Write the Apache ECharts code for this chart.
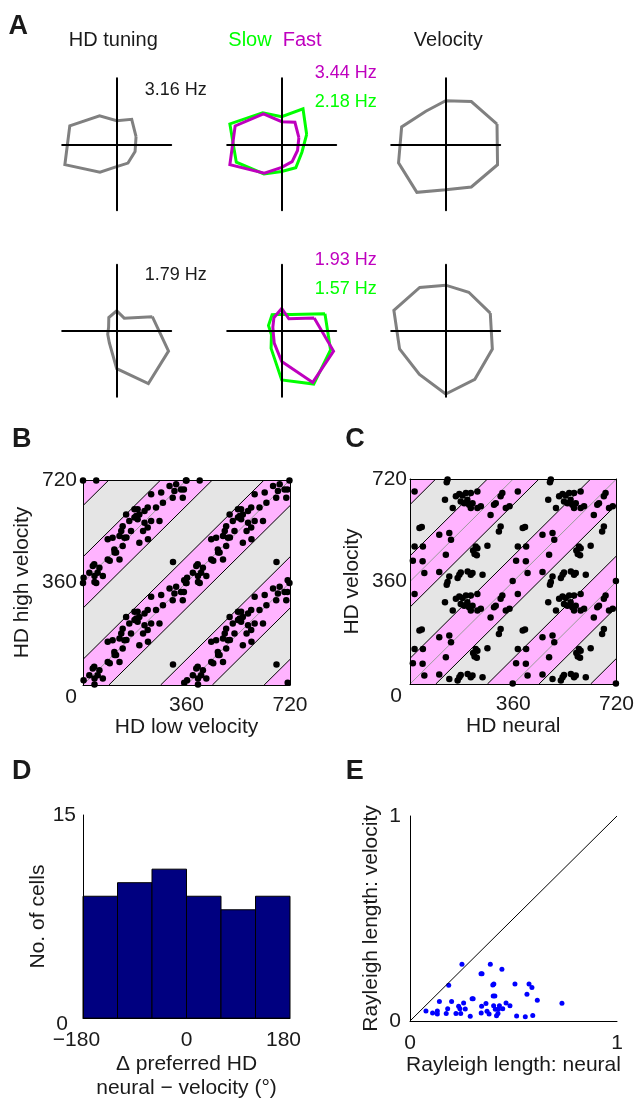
<!DOCTYPE html>
<html><head><meta charset="utf-8">
<script src="https://cdn.jsdelivr.net/npm/echarts@6/dist/echarts.min.js"></script>
<style>html,body{margin:0;padding:0;background:#fff}#c{width:637px;height:1101px}</style>
</head><body><div id="c"></div>
<script>
const FONT = "'Liberation Sans', Arial, Helvetica, sans-serif";
const TXT = '#1a1a1a';

// ---- Panel A: direction bins (deg) and tuning curves ----
const binAngles = [18, 54, 90, 126, 162, 198, 234, 270, 306, 342];
const hdTuning1 = [1.18, 1.48, 1.13, 1.69, 2.86, 3.16, 1.65, 1.07, 1.11, 1.12];
const slow1     = [1.05, 1.45, 0.91, 1.29, 2.18, 1.91, 1.21, 0.90, 0.96, 0.85];
const fast1     = [1.14, 1.42, 1.18, 1.96, 3.09, 3.44, 1.86, 1.20, 1.12, 1.05];
const velocity1 = [0.99, 0.80, 0.66, 0.62, 0.85, 0.91, 0.90, 0.69, 0.80, 1.00];
const hdTuning2 = [1.23, 0.42, 0.54, 0.44, 0.28, 0.31, 0.41, 1.03, 1.77, 1.79];
const slow2     = [1.31, 0.48, 0.39, 0.47, 0.40, 0.31, 0.52, 1.17, 1.57, 1.48];
const fast2     = [1.21, 0.43, 0.65, 0.47, 0.33, 0.31, 0.45, 0.90, 1.87, 1.93];
const velocity2 = [0.86, 0.72, 0.69, 0.81, 1.00, 0.89, 0.82, 0.96, 0.91, 0.90];

// ---- Panels B & C: background bands (offset y - x, deg) ----
const pinkBands = [[-810, -630], [-450, -270], [-90, 90], [270, 450], [630, 810]];
const bandEdges = [-630, -450, -270, -90, 90, 270, 450, 630];
const identityLines = [-360, 0, 360];

// Panel B: preferred HD (low velocity, high velocity), base points in [0,360)
const hdLowVel = [324,341,318,301,272,312,347,237,278,254,225,214,190,179,185,196,190,179,150,161,214,237,266,225,138,167,133,127,144,103,86,196,138,109,115,86,127,39,34,57,22,51,40,69,2,40,313,352,351,46,0,358,93,151,209,226,110];
const hdHighVel = [345,327,321,339,316,298,298,310,280,263,263,251,257,257,234,239,222,228,239,216,210,216,216,193,198,181,181,163,157,157,152,140,128,116,105,81,81,64,58,52,34,34,23,23,17,2,72,8,327,358,358,358,76,158,181,152,105];

// Panel C: preferred HD (neural, velocity), base points in [0,360)
const hdNeural = [16,128,122,160,172,183,195,212,235,177,189,200,206,218,212,235,247,149,299,293,322,316,334,347,281,41,33,102,137,143,316,310,16,45,229,235,270,233,125,10,44,50,102,137,172,177,166,201,218,212,253,358,131,220,225];
const hdVelocity = [316,349,287,299,307,302,311,311,316,281,275,287,270,275,258,258,264,258,275,270,311,299,258,264,234,191,188,164,170,147,193,176,123,123,123,117,126,92,94,73,71,30,33,18,24,32,12,35,30,24,24,2,358,109,97];

// ---- Panel D: histogram ----
const binEdgesD = [-180, -120, -60, 0, 60, 120, 180];
const cellCounts = [9, 10, 11, 9, 8, 9];

// ---- Panel E: Rayleigh vector lengths ----
const rayNeural = [0.251,0.388,0.444,0.343,0.348,0.187,0.400,0.405,0.507,0.575,0.589,0.565,0.402,0.410,0.615,0.734,0.142,0.201,0.259,0.300,0.305,0.367,0.346,0.464,0.483,0.077,0.109,0.132,0.132,0.182,0.175,0.235,0.241,0.222,0.245,0.267,0.291,0.344,0.372,0.382,0.404,0.412,0.427,0.425,0.432,0.448,0.418,0.515,0.557,0.593];
const rayVelocity = [0.277,0.277,0.252,0.231,0.231,0.174,0.176,0.180,0.180,0.180,0.164,0.130,0.122,0.122,0.101,0.086,0.095,0.095,0.088,0.109,0.109,0.085,0.072,0.088,0.075,0.049,0.039,0.049,0.034,0.060,0.037,0.072,0.060,0.037,0.037,0.059,0.023,0.039,0.048,0.034,0.075,0.057,0.057,0.037,0.075,0.060,0.026,0.024,0.021,0.027];
const unityLine = [[0, 0], [1, 1]];

// ---------------- helpers ----------------
function polarPoly(vals) {
  const m = Math.max(...vals);
  const pts = vals.map((v, i) => {
    const a = binAngles[i] * Math.PI / 180;
    return [v / m * Math.cos(a), v / m * Math.sin(a)];
  });
  pts.push(pts[0]);
  return pts;
}
function hz(vals) { return Math.max(...vals).toFixed(2) + ' Hz'; }
function wrap4(xs, ys) {
  const out = [];
  xs.forEach((x, i) => {
    const y = ys[i];
    out.push([x, y], [x + 360, y], [x, y + 360], [x + 360, y + 360]);
  });
  return out;
}
function clipPoly(pts, lo, hi) {
  const planes = [
    [p => p[0] >= lo, (a, b) => { const t = (lo - a[0]) / (b[0] - a[0]); return [lo, a[1] + t * (b[1] - a[1])]; }],
    [p => p[0] <= hi, (a, b) => { const t = (hi - a[0]) / (b[0] - a[0]); return [hi, a[1] + t * (b[1] - a[1])]; }],
    [p => p[1] >= lo, (a, b) => { const t = (lo - a[1]) / (b[1] - a[1]); return [a[0] + t * (b[0] - a[0]), lo]; }],
    [p => p[1] <= hi, (a, b) => { const t = (hi - a[1]) / (b[1] - a[1]); return [a[0] + t * (b[0] - a[0]), hi]; }]
  ];
  let poly = pts;
  for (const [inside, inter] of planes) {
    const res = [];
    for (let i = 0; i < poly.length; i++) {
      const cur = poly[i], prev = poly[(i + poly.length - 1) % poly.length];
      const ci = inside(cur), pi = inside(prev);
      if (ci) { if (!pi) res.push(inter(prev, cur)); res.push(cur); }
      else if (pi) res.push(inter(prev, cur));
    }
    poly = res;
    if (!poly.length) break;
  }
  return poly;
}
function bandRender(params, api) {
  const lo = api.value(0), hi = api.value(1);
  const poly = clipPoly([[-900, -900 + lo], [1700, 1700 + lo], [1700, 1700 + hi], [-900, -900 + hi]], 0, 720);
  if (poly.length < 3) return null;
  return { type: 'polygon', shape: { points: poly.map(p => api.coord(p)) }, style: { fill: '#ffb3ff' } };
}
function lineRender(color) {
  return function (params, api) {
    const k = api.value(0);
    const x1 = Math.max(0, -k), x2 = Math.min(720, 720 - k);
    if (x2 <= x1) return null;
    const p1 = api.coord([x1, x1 + k]), p2 = api.coord([x2, x2 + k]);
    return { type: 'line', shape: { x1: p1[0], y1: p1[1], x2: p2[0], y2: p2[1] }, style: { stroke: color, lineWidth: 1 } };
  };
}
const lbl = (extra) => Object.assign({ fontSize: 21, color: TXT, fontFamily: FONT }, extra || {});

// ---------------- layout ----------------
const aCx = [116.7, 281.7, 445.7], aCy = [144.3, 330.7];
const grids = [], xAxes = [], yAxes = [], series = [];
for (let i = 0; i < 6; i++) {
  const cx = aCx[i % 3], cy = aCy[Math.floor(i / 3)];
  grids.push({ left: cx - 54.5, top: cy - 66, width: 109, height: 132 });
  const ax = { gridIndex: i, type: 'value', min: -1, max: 1, z: 10,
    axisLine: { onZero: true, lineStyle: { color: '#000', width: 2 } },
    axisTick: { show: false }, axisLabel: { show: false }, splitLine: { show: false } };
  xAxes.push(Object.assign({}, ax));
  yAxes.push(Object.assign({}, ax));
}
// B (6), C (7), D (8), E (9)
grids.push({ left: 83, top: 480, width: 207, height: 205, show: true, backgroundColor: '#e5e5e5', borderWidth: 0 });
grids.push({ left: 410, top: 479, width: 208, height: 205, show: true, backgroundColor: '#e5e5e5', borderWidth: 0 });
grids.push({ left: 83, top: 815, width: 207, height: 206 });
grids.push({ left: 410, top: 816, width: 207, height: 205 });

const blackLine = { onZero: false, lineStyle: { color: '#000', width: 1 } };
function boxAxes(g, xName, yName, yGap, yZeroPad, yMargin) {
  xAxes.push({ gridIndex: g, type: 'value', min: 0, max: 720, interval: 360, z: 10,
    axisLine: blackLine, axisTick: { show: false }, splitLine: { show: false },
    axisLabel: lbl({ margin: 10, formatter: v => v === 0 ? '' : String(v) }),
    name: xName, nameLocation: 'middle', nameGap: 32, nameTextStyle: lbl() });
  yAxes.push({ gridIndex: g, type: 'value', min: 0, max: 720, interval: 360, z: 10,
    axisLine: blackLine, axisTick: { show: false }, splitLine: { show: false },
    axisLabel: lbl({ margin: yMargin, formatter: v => v === 0 ? '{z|0}' : String(v),
      rich: { z: lbl({ padding: yZeroPad }) } }),
    name: yName, nameLocation: 'middle', nameRotate: 90, nameGap: yGap, nameTextStyle: lbl() });
}
boxAxes(6, 'HD low velocity', 'HD high velocity', 50, [24, 0, 0, 0], 6);
boxAxes(7, 'HD neural', 'HD velocity', 47, [24, 5, 0, 0], 3);

xAxes.push({ gridIndex: 8, type: 'value', min: -180, max: 180, interval: 180, z: 10,
  axisLine: blackLine, axisTick: { show: false }, splitLine: { show: false },
  axisLabel: lbl({ margin: 12, formatter: v => v === -180 ? '{s|\u2212180}' : (v === 180 ? '{s|180}' : String(v)),
    rich: { s: lbl({ padding: [0, 13, 0, 0] }) } }),
  name: '\u0394 preferred HD\nneural \u2212 velocity (\u00b0)', nameLocation: 'middle', nameGap: 32,
  nameTextStyle: lbl({ lineHeight: 24 }) });
yAxes.push({ gridIndex: 8, type: 'value', min: 0, max: 15, interval: 15, z: 10,
  axisLine: blackLine, axisTick: { show: false }, splitLine: { show: false },
  axisLabel: lbl({ margin: 7, formatter: v => v === 0 ? '{z|0}' : String(v), rich: { z: lbl({ padding: [12, 8, 0, 0] }) } }),
  name: 'No. of cells', nameLocation: 'middle', nameRotate: 90, nameGap: 21, nameTextStyle: lbl() });

xAxes.push({ gridIndex: 9, type: 'value', min: 0, max: 1, interval: 1, z: 10,
  axisLine: blackLine, axisTick: { show: false }, splitLine: { show: false },
  axisLabel: lbl({ margin: 12 }),
  name: 'Rayleigh length: neural', nameLocation: 'middle', nameGap: 29, nameTextStyle: lbl() });
yAxes.push({ gridIndex: 9, type: 'value', min: 0, max: 1, interval: 1, z: 10,
  axisLine: blackLine, axisTick: { show: false }, splitLine: { show: false },
  axisLabel: lbl({ margin: 9 }),
  name: 'Rayleigh length: velocity', nameLocation: 'middle', nameRotate: 90, nameGap: 28, nameTextStyle: lbl() });

// box top/right borders for B and C (axes 10, 11)
[6, 7].forEach(g => {
  xAxes.push({ gridIndex: g, type: 'value', position: 'top', min: 0, max: 720, z: 10,
    axisLine: { onZero: false, lineStyle: { color: '#000', width: 1 } }, axisTick: { show: false },
    axisLabel: { show: false }, splitLine: { show: false } });
  yAxes.push({ gridIndex: g, type: 'value', position: 'right', min: 0, max: 720, z: 10,
    axisLine: { onZero: false, lineStyle: { color: '#000', width: 1 } }, axisTick: { show: false },
    axisLabel: { show: false }, splitLine: { show: false } });
});

// ---- Panel A series ----
const GRAY = '#808080', GREEN = '#00ff00', MAG = '#bf00bf';
function poly(idx, vals, color) {
  series.push({ type: 'line', xAxisIndex: idx, yAxisIndex: idx, data: polarPoly(vals), symbol: 'none',
    silent: true, animation: false, lineStyle: { color: color, width: 3, join: 'miter' } });
}
poly(0, hdTuning1, GRAY); poly(1, slow1, GREEN); poly(1, fast1, MAG); poly(2, velocity1, GRAY);
poly(3, hdTuning2, GRAY); poly(4, slow2, GREEN); poly(4, fast2, MAG); poly(5, velocity2, GRAY);

// ---- Panels B, C series ----
function boxSeries(g, xs, ys) {
  series.push({ type: 'custom', xAxisIndex: g, yAxisIndex: g, data: pinkBands, renderItem: bandRender, clip: true, silent: true, animation: false });
  series.push({ type: 'custom', xAxisIndex: g, yAxisIndex: g, data: identityLines.map(k => [k]), renderItem: lineRender('#9a9a9a'), clip: true, silent: true, animation: false });
  series.push({ type: 'custom', xAxisIndex: g, yAxisIndex: g, data: bandEdges.map(k => [k]), renderItem: lineRender('#000'), clip: true, silent: true, animation: false });
  series.push({ type: 'scatter', xAxisIndex: g, yAxisIndex: g, data: wrap4(xs, ys), symbolSize: 6.5,
    itemStyle: { color: '#000', opacity: 1 }, silent: true, animation: false, clip: false });
}
boxSeries(6, hdLowVel, hdHighVel);
boxSeries(7, hdNeural, hdVelocity);

// ---- Panel D ----
series.push({ type: 'custom', xAxisIndex: 8, yAxisIndex: 8,
  data: cellCounts.map((c, i) => [binEdgesD[i], binEdgesD[i + 1], c]),
  encode: { x: [0, 1], y: 2 }, silent: true, animation: false,
  renderItem: (params, api) => {
    const p1 = api.coord([api.value(0), api.value(2)]);
    const p2 = api.coord([api.value(1), 0]);
    return { type: 'rect', shape: { x: p1[0], y: p1[1], width: p2[0] - p1[0], height: p2[1] - p1[1] },
      style: { fill: '#000080', stroke: '#000', lineWidth: 1 } };
  } });

// ---- Panel E ----
series.push({ type: 'line', xAxisIndex: 9, yAxisIndex: 9, data: unityLine, symbol: 'none', silent: true, animation: false,
  lineStyle: { color: '#000', width: 1 } });
series.push({ type: 'scatter', xAxisIndex: 9, yAxisIndex: 9, data: rayNeural.map((x, i) => [x, rayVelocity[i]]),
  symbolSize: 5, itemStyle: { color: '#0000ff', opacity: 1 }, silent: true, animation: false });

// ---- texts ----
function txt(text, x, y, opts) {
  const o = Object.assign({ size: 20, color: TXT, align: 'center', weight: 'normal' }, opts || {});
  return { type: 'text', x: x, y: y, silent: true, z: 100,
    style: { text: text, fill: o.color, fontSize: o.size, fontFamily: FONT, fontWeight: o.weight,
      align: o.align, verticalAlign: 'middle', textAlign: o.align, textVerticalAlign: 'middle' } };
}
const graphics = [
  txt('A', 18.3, 27, { size: 27, weight: 'bold' }),
  txt('B', 21.7, 440, { size: 27, weight: 'bold' }),
  txt('C', 355, 440, { size: 27, weight: 'bold' }),
  txt('D', 21.7, 772, { size: 27, weight: 'bold' }),
  txt('E', 354.7, 772, { size: 27, weight: 'bold' }),
  txt('HD tuning', 113.3, 40),
  txt('Slow', 228.3, 40, { align: 'left', color: GREEN }),
  txt('Fast', 282.7, 40, { align: 'left', color: MAG }),
  txt('Velocity', 448.3, 40),
  txt(hz(hdTuning1), 206.7, 90, { size: 18, align: 'right' }),
  txt(hz(fast1), 376.7, 73, { size: 18, align: 'right', color: MAG }),
  txt(hz(slow1), 376.7, 102, { size: 18, align: 'right', color: GREEN }),
  txt(hz(hdTuning2), 206.7, 275.3, { size: 18, align: 'right' }),
  txt(hz(fast2), 376.7, 259.7, { size: 18, align: 'right', color: MAG }),
  txt(hz(slow2), 376.7, 289.3, { size: 18, align: 'right', color: GREEN })
];

const chart = echarts.init(document.getElementById('c'), null, { renderer: 'canvas' });
chart.setOption({
  animation: false,
  backgroundColor: '#fff',
  grid: grids, xAxis: xAxes, yAxis: yAxes, series: series, graphic: graphics
});
</script></body></html>
